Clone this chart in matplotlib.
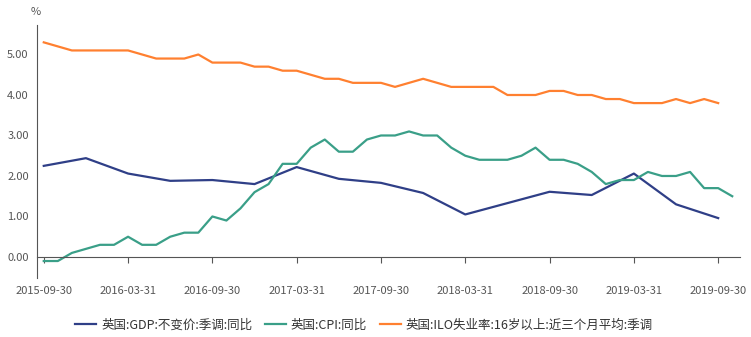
import matplotlib
matplotlib.use("Agg")
import matplotlib.pyplot as plt
import numpy as np

plt.rcParams['font.family'] = ['Noto Sans CJK SC', 'DejaVu Sans']

# monthly index: 0 = 2015-09, 49 = 2019-10
tick_labels = ['2015-09-30', '2016-03-31', '2016-09-30', '2017-03-31', '2017-09-30',
               '2018-03-31', '2018-09-30', '2019-03-31', '2019-09-30']

# GDP quarterly (every 3rd month)
gdp = [2.25, 2.44, 2.06, 1.88, 1.90, 1.80, 2.22, 1.93, 1.83, 1.58, 1.05, 1.33, 1.61,
       1.53, 2.06, 1.30, 0.96]

cpi = [-0.1, -0.1, 0.1, 0.2, 0.3, 0.3, 0.5, 0.3, 0.3, 0.5, 0.6, 0.6, 1.0, 0.9, 1.2, 1.6,
       1.8, 2.3, 2.3, 2.7, 2.9, 2.6, 2.6, 2.9, 3.0, 3.0, 3.1, 3.0, 3.0, 2.7, 2.5, 2.4,
       2.4, 2.4, 2.5, 2.7, 2.4, 2.4, 2.3, 2.1, 1.8, 1.9, 1.9, 2.1, 2.0, 2.0, 2.1, 1.7,
       1.7, 1.5]

unemp = [5.3, 5.2, 5.1, 5.1, 5.1, 5.1, 5.1, 5.0, 4.9, 4.9, 4.9, 5.0, 4.8, 4.8, 4.8, 4.7,
         4.7, 4.6, 4.6, 4.5, 4.4, 4.4, 4.3, 4.3, 4.3, 4.2, 4.3, 4.4, 4.3, 4.2, 4.2, 4.2,
         4.2, 4.0, 4.0, 4.0, 4.1, 4.1, 4.0, 4.0, 3.9, 3.9, 3.8, 3.8, 3.8, 3.9, 3.8, 3.9,
         3.8]

names = ['英国:GDP:不变价:季调:同比', '英国:CPI:同比', '英国:ILO失业率:16岁以上:近三个月平均:季调']
colors = ['#2f3f87', '#3a9f88', '#ff8030']

fig = plt.figure(figsize=(7.51, 3.37), dpi=100)
ax = fig.add_axes([0.0493, 0.175, 0.936, 0.751])

x_gdp = np.arange(len(gdp)) * 3
x_cpi = np.arange(len(cpi))
x_un = np.arange(len(unemp))

ax.plot(x_gdp, gdp, color=colors[0], lw=1.6, label=names[0])
ax.plot(x_cpi, cpi, color=colors[1], lw=1.6, label=names[1])
ax.plot(x_un, unemp, color=colors[2], lw=1.6, label=names[2])

ax.set_xlim(-0.48, 49.55)
ax.set_ylim(-0.52, 5.73)

for s in ['top', 'right']:
    ax.spines[s].set_visible(False)
ax.spines['left'].set_color('#555555')
ax.spines['bottom'].set_color('#555555')
ax.spines['bottom'].set_position(('data', 0))

ax.set_xticks(np.arange(0, 49, 6))
ax.set_xticklabels(tick_labels)
ax.tick_params(axis='x', length=4, color='#555555', labelsize=8, labelcolor='#555555', pad=17)
ax.set_yticks(np.arange(0, 6, 1))
ax.set_yticklabels([f"{v:.2f}" for v in range(6)])
ax.tick_params(axis='y', length=0, labelsize=8, labelcolor='#555555', pad=6)

fig.text(0.048, 0.98, '%', ha='center', va='top', fontsize=8, color='#555555')

ax.legend(loc='center', bbox_to_anchor=(0.465, -0.186), ncol=3, frameon=False,
          fontsize=9, handlelength=1.7, handletextpad=0.4, columnspacing=1.0,
          labelcolor='#333333')

fig.savefig('out.png', dpi=100)
